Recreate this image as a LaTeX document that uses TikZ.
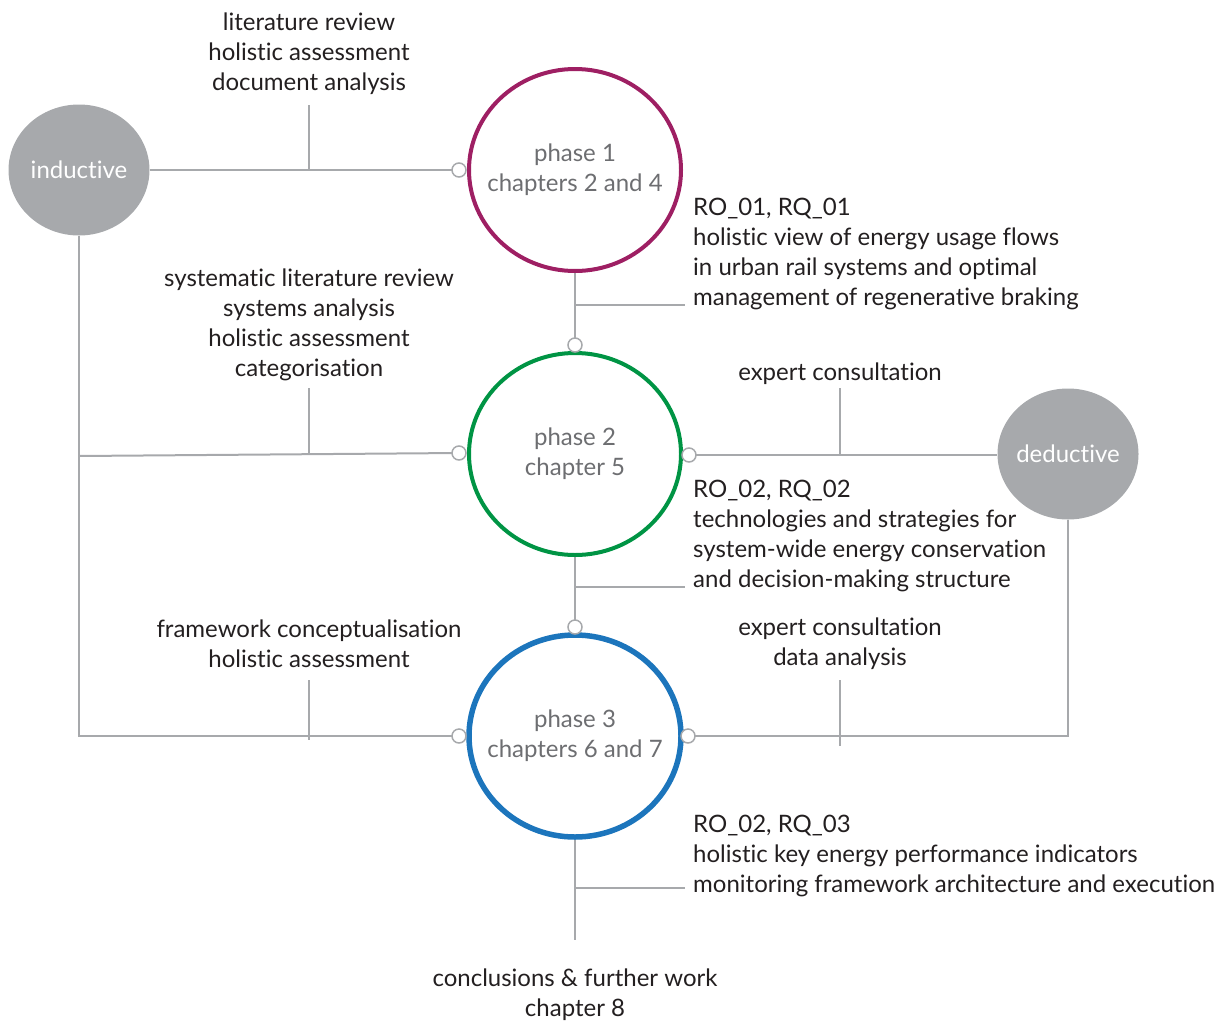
\documentclass[tikz,border=0pt]{standalone}
\usepackage{fontspec}
\setmainfont{Lato}[Ligatures=NoCommon]
\usetikzlibrary{shapes.geometric}
\definecolor{linegray}{HTML}{A7A9AC}
\definecolor{ink}{HTML}{231F20}
\definecolor{phasegray}{HTML}{6D6E71}
\definecolor{plum}{HTML}{9E1F63}
\definecolor{leaf}{HTML}{009444}
\definecolor{sea}{HTML}{1C75BC}
\begin{document}
\begin{tikzpicture}[x=1pt,y=-1pt,
  every node/.style={font=\fontsize{24}{30}\selectfont, text=ink, inner sep=0pt},
  wire/.style={draw=linegray, line width=2pt},
  phase/.style={ellipse, draw, line width=4pt, minimum width=212pt, minimum height=202pt},
  phasetext/.style={text=phasegray, align=center},
  method/.style={ellipse, fill=linegray, minimum width=141pt, minimum height=131pt},
  methodtext/.style={text=white},
  port/.style={circle, draw=linegray, fill=white, line width=1.5pt, minimum size=14pt},
  note/.style={align=center},
  goal/.style={align=left, anchor=west}
]
\useasboundingbox (0,0) rectangle (1223,1023);

% approach bubbles
\node[method, label={[methodtext]center:inductive}] (ind) at (79,170) {};
\node[method, label={[methodtext]center:deductive}] (ded) at (1068,454) {};

% phases
\node[phase, draw=plum, label={[phasetext]center:{phase 1\\chapters 2 and 4}}] (ph1) at (575,170) {};
\node[phase, draw=leaf, label={[phasetext]center:{phase 2\\chapter 5}}] (ph2) at (575,454) {};
\node[phase, draw=sea, line width=5.5pt, label={[phasetext]center:{phase 3\\chapters 6 and 7}}] (ph3) at (575,736) {};

% junction helpers
\coordinate (j2) at (79,456);
\coordinate (s1) at (309,105);
\coordinate (s2) at (309,388);
\coordinate (s3) at (309,680);
\coordinate (s3e) at (309,740);
\coordinate (s4) at (840,388);
\coordinate (s5) at (840,680);
\coordinate (s5e) at (840,746);
\coordinate (b1) at (685,305);
\coordinate (b2) at (685,587);
\coordinate (b3) at (685,888);
\coordinate (endp) at (575,940);

% connectors
\draw[wire] (ind.east) -- (459,170) coordinate (p1wc);
\draw[wire] (s1) -- (s1 |- ind.east);
\draw[wire] (ind.south) -- (79,736) -- (459,736) coordinate (p3wc);
\draw[wire] (j2) -- (459,453) coordinate (p2wc);
\draw[wire] (s2) -- (309,454.5);
\draw[wire] (s3) -- (s3e);
\draw[wire] (ph1.south) -- (575,345) coordinate (p12c);
\draw[wire] (ph1.south |- b1) -- (b1);
\draw[wire] (ph2.south) -- (575,627) coordinate (p23c);
\draw[wire] (ph2.south |- b2) -- (b2);
\draw[wire] (ph3.south) -- (endp);
\draw[wire] (ph3.south |- b3) -- (b3);
\draw[wire] (689,455) coordinate (p2ec) -- (ded.west |- p2ec);
\draw[wire] (s4) -- (s4 |- p2ec);
\draw[wire] (ded.south) -- (1068,736) -- (688,736) coordinate (p3ec);
\draw[wire] (s5) -- (s5e);

% ports
\node[port] (p1w) at (p1wc) {};
\node[port] (p12) at (p12c) {};
\node[port] (p2w) at (p2wc) {};
\node[port] (p2e) at (p2ec) {};
\node[port] (p23) at (p23c) {};
\node[port] (p3w) at (p3wc) {};
\node[port] (p3e) at (p3ec) {};

% methods and outcomes
\node[note] (t1) at (309,54) {literature review\\holistic assessment\\document analysis};
\node[note] (t2) at (309,325) {systematic literature review\\systems analysis\\holistic assessment\\categorisation};
\node[note] (t3) at (840,374) {expert consultation};
\node[note] (t4) at (309,644) {framework conceptualisation\\holistic assessment};
\node[note] (t5) at (840,644) {expert consultation\\data analysis};
\node[note] (t6) at (575,995) {conclusions \& further work\\chapter 8};
\node[goal] (r1) at (693,254) {RO\_01, RQ\_01\\holistic view of energy usage flows\\in urban rail systems and optimal\\management of regenerative braking};
\node[goal] (r2) at (693,536) {RO\_02, RQ\_02\\technologies and strategies for\\system-wide energy conservation\\and decision-making structure};
\node[goal] (r3) at (693,856) {RO\_02, RQ\_03\\holistic key energy performance indicators\\monitoring framework architecture and execution};
\end{tikzpicture}
\end{document}
